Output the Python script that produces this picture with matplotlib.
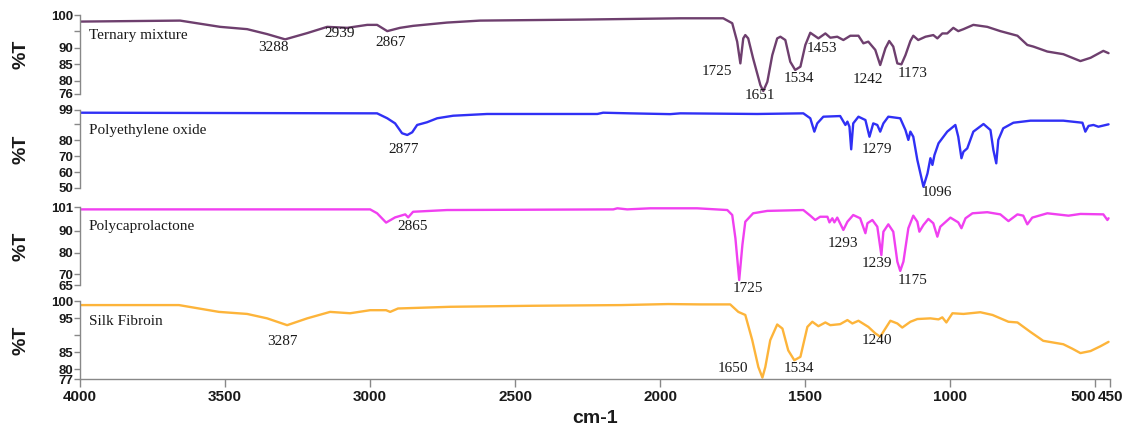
import matplotlib
matplotlib.use("Agg")
import matplotlib.pyplot as plt

# ---------------- data (wavenumber cm-1, %T) ----------------
tern_wn = [4000, 3655, 3517, 3424, 3355, 3293, 3217, 3148, 3079, 3010, 2976, 2941, 2897, 2852,
           2735, 2621, 2276, 1931, 1783, 1752, 1735, 1724, 1714, 1707, 1697, 1680, 1655, 1645,
           1631, 1614, 1597, 1586, 1569, 1552, 1535, 1517, 1500, 1483, 1455, 1431, 1414, 1390,
           1369, 1345, 1317, 1300, 1283, 1259, 1242, 1224, 1211, 1197, 1183, 1169, 1155, 1138,
           1128, 1111, 1086, 1059, 1045, 1028, 1011, 990, 973, 955, 921, 873, 828, 769, 735,
           714, 666, 611, 552, 517, 473, 455]
tern_t = [98.0, 98.3, 96.4, 95.7, 94.2, 92.6, 94.5, 96.4, 96.1, 97.0, 97.0, 95.1, 96.1, 96.7,
          97.7, 98.3, 98.6, 99.0, 99.0, 97.5, 91.9, 85.3, 92.9, 93.9, 92.9, 86.8, 78.7, 76.9,
          79.7, 87.8, 92.9, 93.4, 92.4, 85.8, 83.3, 84.3, 90.9, 94.6, 92.9, 94.4, 93.1, 93.4,
          92.4, 93.7, 93.7, 91.4, 91.9, 89.4, 84.8, 89.9, 92.1, 90.4, 85.3, 85.0, 87.8, 92.1,
          93.7, 92.4, 93.4, 93.9, 92.9, 94.4, 94.4, 96.1, 95.1, 95.7, 97.0, 96.4, 95.1, 93.7,
          90.9, 90.4, 88.9, 88.1, 86.0, 87.0, 89.1, 88.4]

peo_wn = [4000, 2976, 2941, 2914, 2890, 2872, 2855, 2838, 2804, 2769, 2714, 2597, 2217, 2197,
          2104, 1966, 1931, 1666, 1507, 1483, 1469, 1459, 1438, 1380, 1362, 1355, 1348, 1342,
          1335, 1317, 1293, 1279, 1266, 1252, 1242, 1231, 1214, 1173, 1155, 1145, 1138, 1128,
          1114, 1093, 1079, 1069, 1062, 1055, 1041, 1011, 983, 973, 962, 955, 942, 921, 886,
          862, 852, 842, 835, 818, 783, 724, 611, 545, 535, 524, 507, 490, 455]
peo_t = [97.3, 96.9, 93.8, 90.6, 84.4, 83.3, 85.0, 89.6, 91.3, 93.8, 95.4, 96.5, 96.5, 97.3,
         96.9, 96.4, 96.9, 96.5, 96.9, 93.8, 85.4, 90.6, 94.8, 95.2, 89.6, 91.7, 88.5, 74.3,
         90.6, 94.8, 92.7, 82.2, 90.6, 89.6, 85.4, 90.6, 94.8, 93.8, 86.4, 80.2, 85.4, 82.2,
         67.6, 50.8, 59.2, 68.7, 64.5, 70.7, 78.1, 85.4, 89.6, 82.2, 68.7, 72.8, 74.9, 85.4,
         90.2, 86.4, 73.9, 65.5, 80.2, 87.5, 91.0, 92.3, 92.3, 91.0, 85.4, 89.0, 89.6, 88.5,
         90.0]

pcl_wn = [4000, 3000, 2976, 2945, 2914, 2879, 2869, 2852, 2735, 2162, 2148, 2114, 2035, 1873,
          1769, 1752, 1741, 1728, 1717, 1707, 1680, 1631, 1507, 1483, 1466, 1449, 1424, 1417,
          1407, 1400, 1390, 1369, 1355, 1335, 1311, 1293, 1286, 1269, 1252, 1238, 1231, 1214,
          1197, 1183, 1173, 1162, 1145, 1128, 1114, 1107, 1093, 1076, 1059, 1045, 1035, 1000,
          973, 962, 948, 924, 873, 828, 800, 769, 749, 735, 718, 666, 593, 552, 473, 459, 455]
pcl_t = [99.9, 99.9, 98.1, 93.8, 96.2, 97.6, 96.2, 98.8, 99.6, 99.9, 100.4, 99.9, 100.4, 100.4,
         99.6, 97.3, 86.5, 67.3, 83.5, 94.2, 98.1, 99.2, 99.6, 97.0, 95.0, 96.5, 96.5, 93.9,
         95.8, 93.9, 96.1, 90.4, 94.2, 97.3, 95.8, 88.9, 93.5, 95.0, 91.9, 78.8, 89.6, 93.0,
         89.6, 75.8, 71.5, 75.8, 91.2, 97.0, 94.2, 89.6, 92.7, 95.5, 93.5, 87.3, 91.9, 96.1,
         93.9, 91.2, 95.8, 98.1, 98.6, 97.6, 94.5, 97.6, 97.0, 93.0, 96.1, 98.1, 97.0, 97.8,
         97.6, 95.0, 95.8]

sf_wn = [4000, 3659, 3521, 3424, 3355, 3286, 3217, 3138, 3069, 3000, 2945, 2931, 2904, 2724,
         2438, 2135, 1973, 1862, 1759, 1731, 1707, 1683, 1662, 1648, 1638, 1621, 1597, 1579,
         1559, 1538, 1517, 1493, 1476, 1455, 1431, 1414, 1380, 1355, 1338, 1317, 1283, 1259,
         1242, 1228, 1207, 1183, 1166, 1138, 1114, 1069, 1041, 1028, 1014, 993, 955, 897, 855,
         800, 769, 724, 680, 611, 580, 552, 517, 483, 455]
sf_t = [98.8, 98.8, 96.8, 96.2, 94.9, 92.9, 94.9, 96.8, 96.4, 97.3, 97.3, 96.8, 97.8, 98.3,
        98.6, 98.8, 99.1, 99.0, 99.0, 96.8, 95.9, 88.5, 80.6, 77.5, 80.6, 88.5, 93.1, 91.9,
        85.5, 82.6, 83.6, 92.4, 93.9, 92.6, 93.7, 92.9, 93.2, 94.4, 93.4, 94.2, 92.4, 90.5,
        89.5, 91.4, 94.2, 93.4, 92.2, 93.9, 94.7, 94.9, 94.6, 95.2, 93.7, 96.4, 96.2, 96.7,
        95.9, 93.9, 93.7, 90.9, 88.3, 87.3, 86.0, 84.7, 85.3, 86.7, 88.0]

names = ["Ternary mixture", "Polyethylene oxide", "Polycaprolactone", "Silk Fibroin"]
colors = ["#6e3f6e", "#3030f5", "#f040f0", "#fdb43a"]
ylims = [(76, 100), (50, 99), (65, 101), (77, 100)]
yticks = [[100, 95, 90, 85, 80, 76], [99, 90, 80, 70, 60, 50],
          [101, 90, 80, 70, 65], [100, 95, 90, 85, 80, 77]]
ytick_labels = [["100", "", "90", "85", "80", "76"], ["99", "", "80", "70", "60", "50"],
                ["101", "90", "80", "70", "65"], ["100", "95", "", "85", "80", "77"]]
name_t = [93.9, 86.4, 91.9, 93.9]

# peak labels: (text, wn, %T)
peaks = [
    [("3288", 3334, 90.0), ("2939", 3104, 94.4), ("2867", 2931, 91.7), ("1725", 1804, 82.8),
     ("1651", 1655, 75.5), ("1534", 1521, 80.6), ("1453", 1442, 89.9), ("1242", 1283, 80.3),
     ("1173", 1131, 82.3)],
    [("2877", 2883, 74.3), ("1279", 1252, 74.3), ("1096", 1045, 47.1)],
    [("2865", 2855, 91.9), ("1725", 1697, 63.2), ("1293", 1369, 84.2), ("1239", 1252, 75.0),
     ("1175", 1131, 67.0)],
    [("3287", 3304, 88.0), ("1650", 1748, 80.1), ("1534", 1521, 80.1), ("1240", 1252, 88.3)],
]

xticks = [4000, 3500, 3000, 2500, 2000, 1500, 1000, 500, 450]
series = [(tern_wn, tern_t), (peo_wn, peo_t), (pcl_wn, pcl_t), (sf_wn, sf_t)]

# ---------------- layout ----------------
W, H = 1126, 425
fig = plt.figure(figsize=(W / 100, H / 100), dpi=100)
left_px, right_px = 80, 1110
panels_px = [(15, 94), (110, 188), (207, 285), (301, 379.3)]

serif = ["Liberation Serif", "DejaVu Serif"]
sans = ["Liberation Sans", "DejaVu Sans"]
axis_col = "#888888"
text_col = "#1a1a1a"

for i, (top, bot) in enumerate(panels_px):
    ax = fig.add_axes([left_px / W, 1 - bot / H, (right_px - left_px) / W, (bot - top) / H])
    wn, t = series[i]
    ax.plot(wn, t, color=colors[i], lw=1.7, solid_joinstyle="round", solid_capstyle="round")
    ax.set_xlim(4000, 450)
    ax.set_ylim(*ylims[i])
    for s in ["top", "right"]:
        ax.spines[s].set_visible(False)
    ax.spines["left"].set_color(axis_col)
    ax.spines["left"].set_linewidth(1.0)
    ax.set_yticks(yticks[i])
    ax.set_yticklabels(ytick_labels[i], fontfamily=sans, fontweight="bold", fontsize=9.5,
                       color=text_col)
    ax.tick_params(axis="y", direction="out", length=4, width=1, color=axis_col, pad=1)
    ax.patch.set_alpha(0)
    ax.set_ylabel("%T", fontfamily=sans, fontweight="bold", fontsize=14, color=text_col)
    ax.yaxis.set_label_coords(-0.049, 0.5)
    if i < 3:
        ax.spines["bottom"].set_visible(False)
        ax.set_xticks([])
    else:
        ax.spines["bottom"].set_color(axis_col)
        ax.spines["bottom"].set_linewidth(1.0)
        ax.set_xticks(xticks)
        ax.set_xticklabels([str(v) for v in xticks], fontfamily=sans, fontweight="bold",
                           fontsize=11, color=text_col)
        for lbl, v in zip(ax.get_xticklabels(), xticks):
            if v == 500:
                lbl.set_ha("right")
        ax.tick_params(axis="x", direction="out", length=6, width=1, color=axis_col, pad=2)
        ax.set_xlabel("cm-1", fontfamily=sans, fontweight="bold", fontsize=14,
                      color=text_col, labelpad=4)
    ax.text(3970, name_t[i], names[i], fontfamily=serif, fontsize=11, color=text_col,
            ha="left", va="center")
    for txt, x, y in peaks[i]:
        ax.text(x, y, txt, fontfamily=serif, fontsize=11, color=text_col,
                ha="center", va="center")

fig.savefig("out.png", dpi=100)
